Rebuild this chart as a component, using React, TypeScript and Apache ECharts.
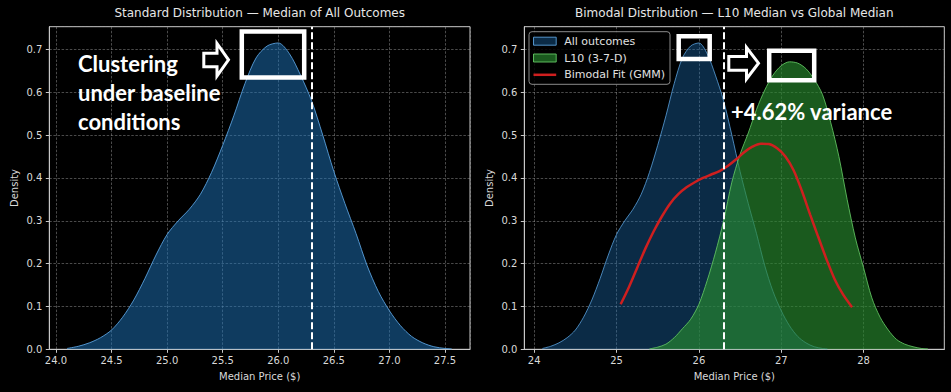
import React, { useEffect, useRef } from "react";
import * as echarts from "echarts";

// ---- data ----
const allOutcomesX = [24.1, 24.2, 24.3, 24.4, 24.5, 24.6, 24.7, 24.8, 24.9, 25.0, 25.1, 25.2, 25.3, 25.4, 25.5, 25.6, 25.7, 25.8, 25.9, 26.0, 26.1, 26.2, 26.3, 26.4, 26.5, 26.6, 26.7, 26.8, 26.9, 27.0, 27.1, 27.2, 27.3, 27.4, 27.5, 27.56];
const allOutcomesY = [0.002, 0.007, 0.015, 0.027, 0.045, 0.075, 0.115, 0.165, 0.22, 0.268, 0.3, 0.327, 0.362, 0.413, 0.476, 0.545, 0.62, 0.68, 0.708, 0.715, 0.69, 0.64, 0.58, 0.5, 0.415, 0.34, 0.27, 0.195, 0.135, 0.09, 0.055, 0.03, 0.015, 0.006, 0.002, 0.001];

const l10X = [25.4, 25.5, 25.6, 25.7, 25.8, 25.9, 26.0, 26.1, 26.2, 26.3, 26.4, 26.5, 26.6, 26.7, 26.8, 26.9, 27.0, 27.1, 27.2, 27.3, 27.4, 27.5, 27.6, 27.7, 27.8, 27.9, 28.0, 28.1, 28.2, 28.3, 28.4, 28.5, 28.6, 28.7, 28.78];
const l10Y = [0.001, 0.005, 0.012, 0.027, 0.048, 0.07, 0.105, 0.16, 0.225, 0.3, 0.39, 0.455, 0.505, 0.56, 0.605, 0.64, 0.662, 0.671, 0.668, 0.655, 0.63, 0.595, 0.53, 0.45, 0.35, 0.26, 0.19, 0.12, 0.075, 0.045, 0.023, 0.012, 0.006, 0.002, 0.001];

const gmmX = [25.05, 25.15, 25.25, 25.35, 25.45, 25.55, 25.65, 25.75, 25.85, 25.95, 26.05, 26.15, 26.25, 26.35, 26.45, 26.55, 26.65, 26.75, 26.85, 26.95, 27.05, 27.15, 27.25, 27.35, 27.45, 27.55, 27.65, 27.75, 27.86];
const gmmY = [0.105, 0.145, 0.19, 0.235, 0.275, 0.31, 0.34, 0.362, 0.378, 0.39, 0.4, 0.408, 0.416, 0.428, 0.443, 0.46, 0.473, 0.48, 0.479, 0.469, 0.45, 0.418, 0.37, 0.315, 0.262, 0.21, 0.163, 0.128, 0.098];

const globalMedian = 26.3;

const titles = ["Standard Distribution — Median of All Outcomes", "Bimodal Distribution — L10 Median vs Global Median"];
const seriesNames = ["All outcomes", "L10 (3-7-D)", "Bimodal Fit (GMM)"];
const xAxisName = "Median Price ($)";
const yAxisName = "Density";
const leftNote = "Clustering\nunder baseline\nconditions";
const rightNote = "+4.62% variance";

const zip = (xs: number[], ys: number[]) => xs.map((x, i) => [x, ys[i]]);

const TEXT = "#d9d9d9";
const SPINE = "#c8c8c8";
const GRIDLINE = "rgba(170,170,170,0.55)";
const FONT = "DejaVu Sans";

function isMultiple(v: number, step: number) {
  const r = v / step;
  return Math.abs(r - Math.round(r)) < 1e-6;
}

function xAxisCfg(gridIndex: number, min: number, max: number, step: number, digits: number) {
  return {
    type: "value",
    gridIndex,
    min,
    max,
    minInterval: step,
    maxInterval: step,
    name: xAxisName,
    nameLocation: "middle",
    nameGap: 22,
    nameTextStyle: { color: TEXT, fontSize: 10, fontFamily: FONT },
    axisLine: { show: true, lineStyle: { color: SPINE, width: 1 } },
    axisTick: { show: true, length: 3.5, lineStyle: { color: SPINE } },
    axisLabel: {
      color: TEXT,
      fontSize: 10,
      fontFamily: FONT,
      margin: 6,
      showMinLabel: false,
      showMaxLabel: false,
      formatter: (v: number) => (isMultiple(v, step) ? v.toFixed(digits) : ""),
    },
    splitLine: { show: true, lineStyle: { color: GRIDLINE, type: [2.5, 1.6], width: 0.8 } },
  };
}

function yAxisCfg(gridIndex: number) {
  return {
    type: "value",
    gridIndex,
    min: 0,
    max: 0.753,
    interval: 0.1,
    name: yAxisName,
    nameLocation: "middle",
    nameGap: 30,
    nameTextStyle: { color: TEXT, fontSize: 10, fontFamily: FONT },
    axisLine: { show: true, lineStyle: { color: SPINE, width: 1 } },
    axisTick: { show: true, length: 3.5, lineStyle: { color: SPINE } },
    axisLabel: {
      color: TEXT,
      fontSize: 10,
      fontFamily: FONT,
      margin: 7,
      showMaxLabel: false,
      formatter: (v: number) => (isMultiple(v, 0.1) ? v.toFixed(1) : ""),
    },
    splitLine: { show: true, lineStyle: { color: GRIDLINE, type: [2.5, 1.6], width: 0.8 } },
  };
}

const medianLine = {
  symbol: "none",
  silent: true,
  label: { show: false },
  lineStyle: { color: "#ffffff", type: [7, 3], width: 2, opacity: 1 },
  data: [{ xAxis: globalMedian }],
};

function arrow(pts: number[][]) {
  return {
    type: "polygon",
    z: 100,
    shape: { points: pts },
    style: { fill: "#000", stroke: "#fff", lineWidth: 3, lineJoin: "miter" },
  };
}

function box(x1: number, y1: number, x2: number, y2: number) {
  return {
    type: "rect",
    z: 100,
    shape: { x: x1, y: y1, width: x2 - x1, height: y2 - y1 },
    style: { fill: "none", stroke: "#fff", lineWidth: 4.5 },
  };
}

export default function App() {
  const ref = useRef<HTMLDivElement>(null);
  useEffect(() => {
    if (!ref.current) return;
    const chart = echarts.init(ref.current, null, { renderer: "svg" });
    const option: any = {
      animation: false,
      backgroundColor: "#000",
      title: [
        { text: titles[0], left: 259.7, top: 7, padding: 0, textAlign: "center", textStyle: { color: "#e6e6e6", fontSize: 12, fontWeight: "normal", fontFamily: FONT } },
        { text: titles[1], left: 734.3, top: 7, padding: 0, textAlign: "center", textStyle: { color: "#e6e6e6", fontSize: 12, fontWeight: "normal", fontFamily: FONT } },
      ],
      grid: [
        { left: 49.3, top: 26.7, width: 420.7, height: 322.6, show: true, borderColor: SPINE, borderWidth: 1, backgroundColor: "transparent" },
        { left: 524.3, top: 26.7, width: 420, height: 322.6, show: true, borderColor: SPINE, borderWidth: 1, backgroundColor: "transparent" },
      ],
      xAxis: [xAxisCfg(0, 23.94, 27.725, 0.5, 1), xAxisCfg(1, 23.88, 28.98, 1, 0)],
      yAxis: [yAxisCfg(0), yAxisCfg(1)],
      legend: {
        left: 529,
        top: 31.7,
        orient: "vertical",
        itemWidth: 22.7,
        itemHeight: 8,
        itemGap: 3.8,
        padding: [3, 5, 3, 4],
        borderColor: "#8a8a8a",
        borderWidth: 1,
        borderRadius: 3,
        backgroundColor: "rgba(0,0,0,0.85)",
        textStyle: { color: "#e0e0e0", fontSize: 11, fontFamily: FONT, lineHeight: 13, padding: [0, 0, 0, 3] },
        data: [
          { name: seriesNames[0], icon: "rect", itemStyle: { color: "rgba(30,118,190,0.37)", borderColor: "rgba(90,160,220,0.9)", borderWidth: 1 } },
          { name: seriesNames[1], icon: "rect", itemStyle: { color: "rgba(40,138,46,0.65)", borderColor: "rgba(100,200,100,0.9)", borderWidth: 1 } },
          { name: seriesNames[2], icon: "path://M0,0H22.7V2.5H0Z", itemStyle: { color: "#cf1f1f", borderWidth: 0 } },
        ],
      },
      graphic: [
        box(241.8, 31.5, 304.2, 77.5),
        arrow([[203.8, 53.2], [217, 53.2], [217, 43.5], [228.5, 59.8], [217, 76], [217, 66.8], [203.8, 66.8]]),
        {
          type: "text",
          z: 100,
          left: 78,
          top: 49,
          style: { text: leftNote, fill: "#fff", font: "bold 22px Lato", lineHeight: 29 },
        },
        box(678.7, 36.3, 709.7, 59),
        box(769.2, 50.8, 814.2, 80.2),
        arrow([[728.8, 56.5], [746.5, 56.5], [746.5, 47.5], [758.5, 63.2], [746.5, 79], [746.5, 70.2], [728.8, 70.2]]),
        {
          type: "text",
          z: 100,
          left: 731,
          top: 100,
          style: { text: rightNote, fill: "#fff", font: "bold 22px Lato" },
        },
      ],
      series: [
        {
          name: "all-left",
          type: "line",
          xAxisIndex: 0,
          yAxisIndex: 0,
          data: zip(allOutcomesX, allOutcomesY),
          smooth: 0.3,
          symbol: "none",
          lineStyle: { color: "rgba(90,160,220,0.9)", width: 1 },
          itemStyle: { color: "rgba(30,118,190,0.5)" },
          areaStyle: { color: "rgba(30,118,190,0.5)", opacity: 1 },
          markLine: medianLine,
          z: 2,
        },
        {
          name: seriesNames[0],
          type: "line",
          xAxisIndex: 1,
          yAxisIndex: 1,
          data: zip(allOutcomesX, allOutcomesY),
          smooth: 0.3,
          symbol: "none",
          lineStyle: { color: "rgba(90,160,220,0.8)", width: 1 },
          itemStyle: { color: "rgba(30,118,190,0.37)" },
          areaStyle: { color: "rgba(30,118,190,0.37)", opacity: 1 },
          z: 2,
        },
        {
          name: seriesNames[1],
          type: "line",
          xAxisIndex: 1,
          yAxisIndex: 1,
          data: zip(l10X, l10Y),
          smooth: 0.3,
          symbol: "none",
          lineStyle: { color: "rgba(100,200,100,0.85)", width: 1 },
          itemStyle: { color: "rgba(40,138,46,0.65)" },
          areaStyle: { color: "rgba(40,138,46,0.65)", opacity: 1 },
          markLine: medianLine,
          z: 3,
        },
        {
          name: seriesNames[2],
          type: "line",
          xAxisIndex: 1,
          yAxisIndex: 1,
          data: zip(gmmX, gmmY),
          smooth: 0.3,
          symbol: "none",
          lineStyle: { color: "#cf1f1f", width: 2.5 },
          itemStyle: { color: "#cf1f1f" },
          z: 4,
        },
      ],
    };
    chart.setOption(option);
    return () => chart.dispose();
  }, []);
  return <div ref={ref} style={{ position: "fixed", left: 0, top: 0, width: 951, height: 392 }} />;
}
